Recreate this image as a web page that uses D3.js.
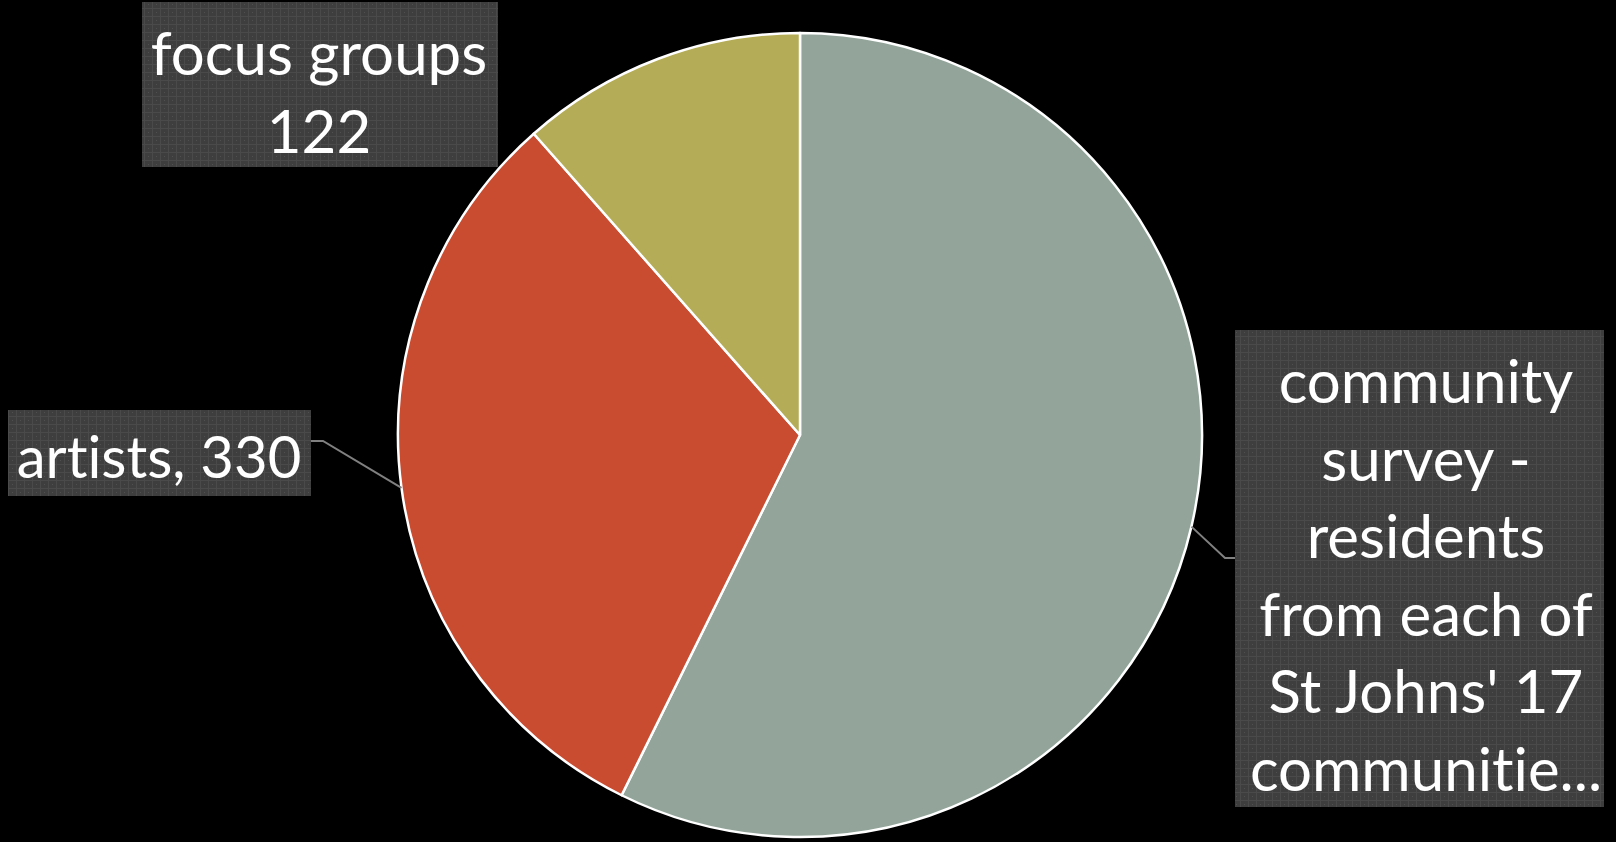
<!DOCTYPE html>
<html>
<head>
<meta charset="utf-8">
<script src="https://cdn.jsdelivr.net/npm/d3@7"></script>
<style>
  html, body { margin: 0; padding: 0; background: #000; }
  svg { display: block; }
  .lbl { font-family: Lato, "Open Sans", sans-serif; fill: #ffffff; font-variant-ligatures: none; font-feature-settings: "liga" 0; }
</style>
</head>
<body>
<svg id="chart" width="1616" height="842"></svg>
<script>
// Participation by source
const categories = ["community survey - residents from each of St Johns' 17 communities", "artists", "focus groups"];
const values = [607, 330, 122];
const colors = ["#93A59B", "#C94B30", "#B4AC56"];

// label text lines as they appear in each callout
const labelLines = [
  ["community", "survey -", "residents", "from each of", "St Johns' 17", "communitie..."],
  ["artists, 330"],
  ["focus groups", "122"]
];

const W = 1616, H = 842;
const cx = 800, cy = 435, R = 402;

const svg = d3.select("#chart");

// subtle woven texture for the callout boxes
const defs = svg.append("defs");
const pat = defs.append("pattern")
  .attr("id", "weave").attr("width", 8).attr("height", 8)
  .attr("patternUnits", "userSpaceOnUse");
pat.append("rect").attr("width", 8).attr("height", 8).attr("fill", "#3e3e3e");
pat.append("rect").attr("width", 8).attr("height", 1).attr("fill", "#4a4a4a");
pat.append("rect").attr("width", 1).attr("height", 8).attr("fill", "#4a4a4a");
pat.append("rect").attr("x", 4).attr("y", 4).attr("width", 1).attr("height", 1).attr("fill", "#505050");

const pie = d3.pie().sort(null).value(d => d)(values);
const arc = d3.arc().innerRadius(0).outerRadius(R);

const g = svg.append("g").attr("transform", `translate(${cx},${cy})`);
g.selectAll("path.slice")
  .data(pie)
  .join("path")
  .attr("class", "slice")
  .attr("d", arc)
  .attr("fill", (d, i) => colors[i])
  .attr("stroke", "#ffffff")
  .attr("stroke-width", 2.5)
  .attr("stroke-linejoin", "round");

// point on the rim at the middle of a slice
function rimMid(d) {
  const a = (d.startAngle + d.endAngle) / 2;
  return [cx + R * Math.sin(a), cy - R * Math.cos(a)];
}

// leader lines
const leaderColor = "#808080";
const pC = rimMid(pie[0]);
svg.append("polyline")
  .attr("points", [pC, [1225, 558], [1236, 558]].map(p => p.join(",")).join(" "))
  .attr("fill", "none").attr("stroke", leaderColor).attr("stroke-width", 2);
const pA = rimMid(pie[1]);
svg.append("polyline")
  .attr("points", [pA, [323, 441], [311, 441]].map(p => p.join(",")).join(" "))
  .attr("fill", "none").attr("stroke", leaderColor).attr("stroke-width", 2);

// callout boxes
const boxes = [
  { x: 1235, y: 330, w: 369, h: 477, tx: 1426, base: 403, step: 77.5, size: 60 },
  { x: 8, y: 410, w: 303, h: 86, tx: 159, base: 478, step: 78, size: 58 },
  { x: 142, y: 2, w: 356, h: 165, tx: 319, base: 75, step: 78, size: 60 }
];

boxes.forEach((b, i) => {
  svg.append("rect")
    .attr("x", b.x).attr("y", b.y).attr("width", b.w).attr("height", b.h)
    .attr("fill", "url(#weave)");
  const t = svg.append("text").attr("class", "lbl")
    .attr("text-anchor", "middle")
    .attr("font-size", b.size);
  labelLines[i].forEach((line, j) => {
    t.append("tspan").attr("x", b.tx).attr("y", b.base + j * b.step).text(line);
  });
});
</script>
</body>
</html>
